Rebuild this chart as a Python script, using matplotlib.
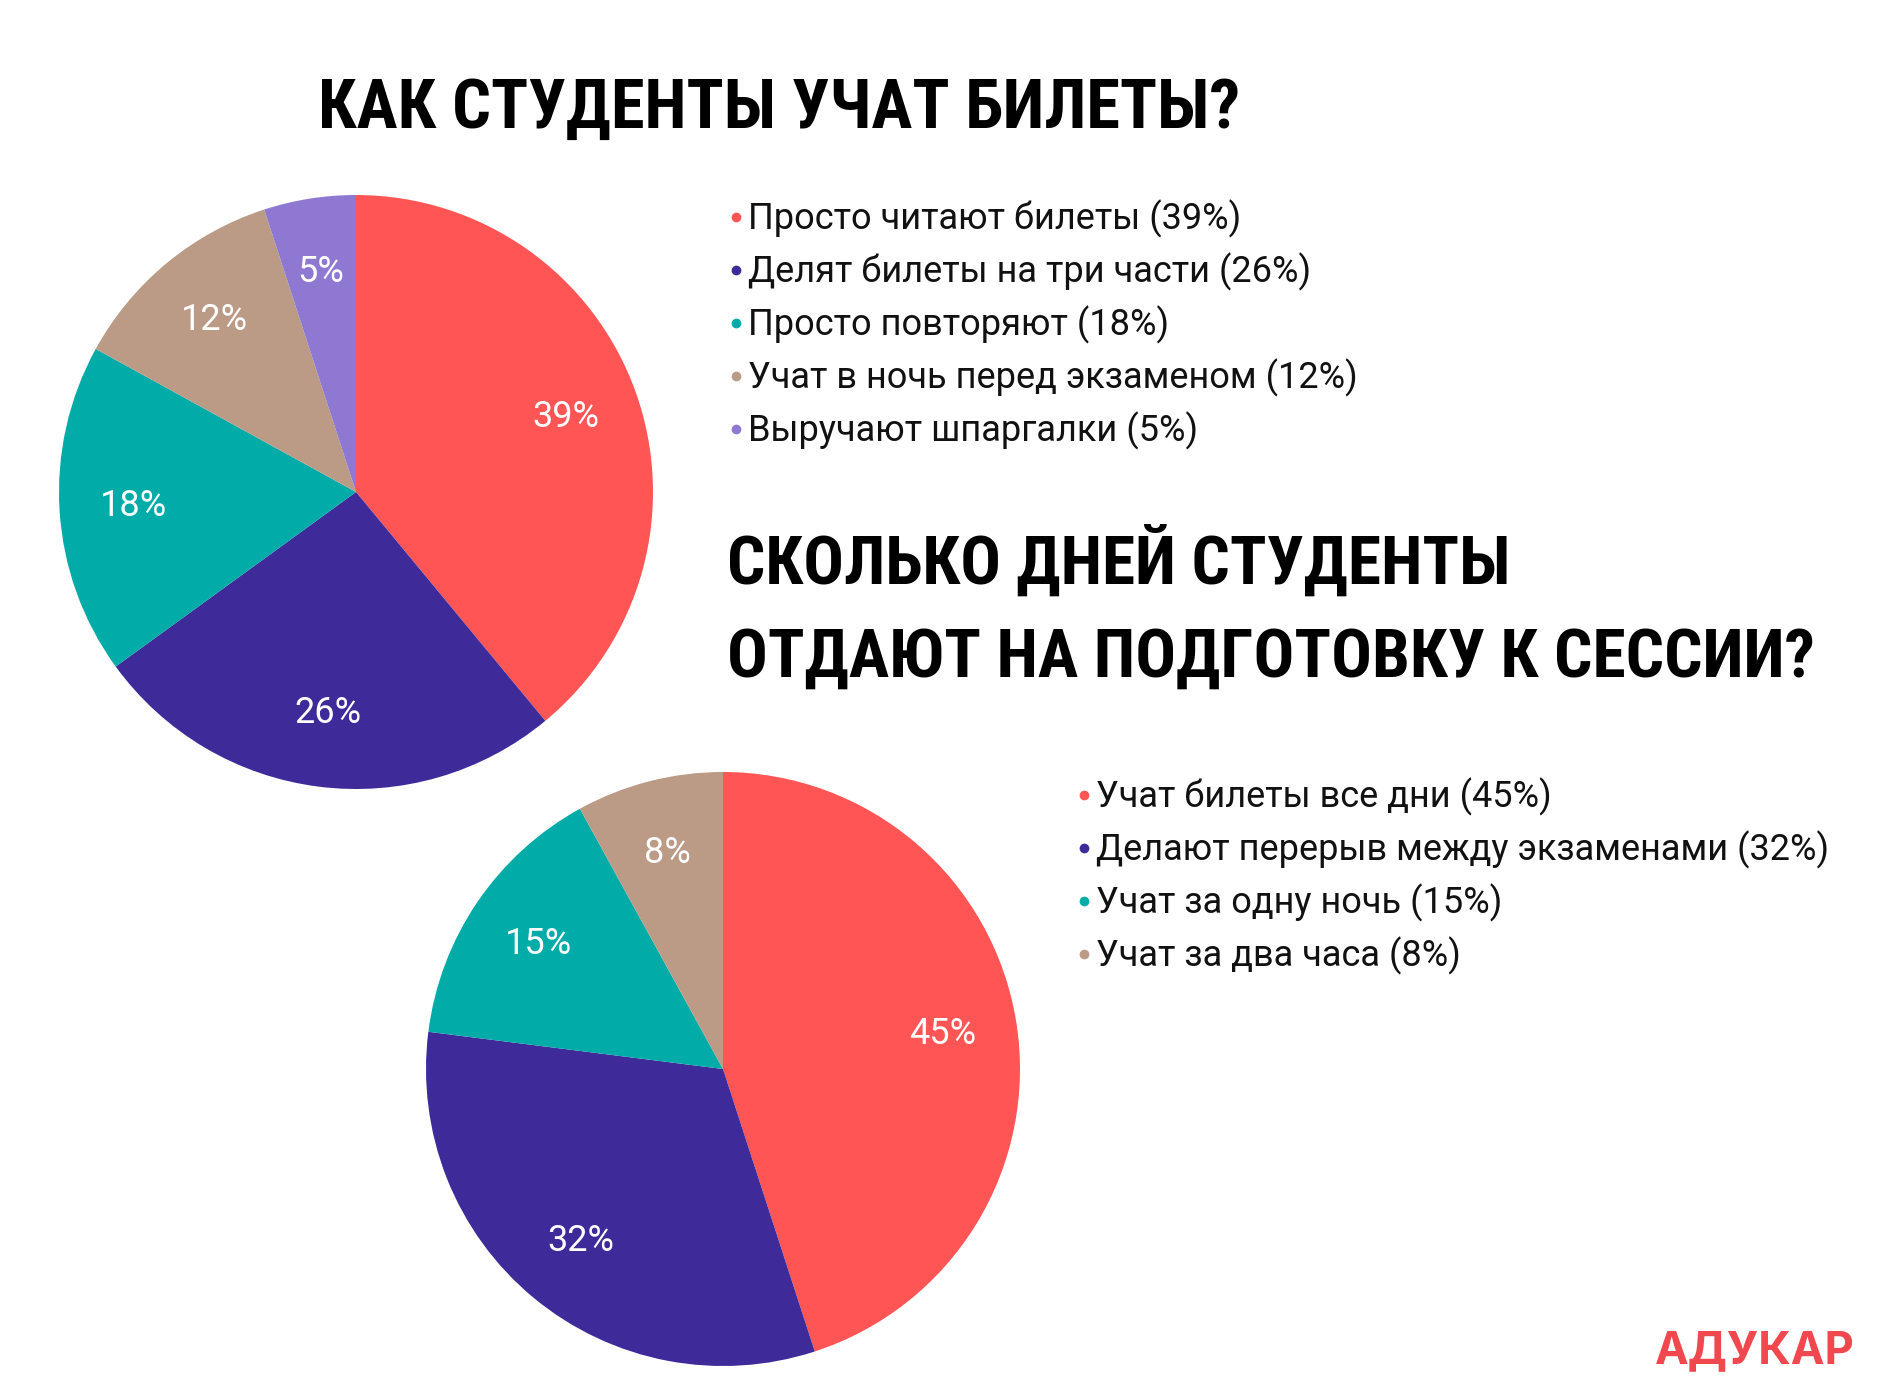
import matplotlib
matplotlib.use('Agg')
import matplotlib.pyplot as plt
from matplotlib import font_manager
from matplotlib.lines import Line2D

W, H = 1880, 1400

# question 1
q1_title = 'КАК СТУДЕНТЫ УЧАТ БИЛЕТЫ?'
q1_labels = ['Просто читают билеты', 'Делят билеты на три части', 'Просто повторяют',
             'Учат в ночь перед экзаменом', 'Выручают шпаргалки']
q1_values = [39, 26, 18, 12, 5]
q1_colors = ['#FF5555', '#3F2A99', '#00ABA8', '#BB9A86', '#8E78D2']

# question 2
q2_title = ['СКОЛЬКО ДНЕЙ СТУДЕНТЫ', 'ОТДАЮТ НА ПОДГОТОВКУ К СЕССИИ?']
q2_labels = ['Учат билеты все дни', 'Делают перерыв между экзаменами',
             'Учат за одну ночь', 'Учат за два часа']
q2_values = [45, 32, 15, 8]
q2_colors = ['#FF5555', '#3F2A99', '#00ABA8', '#BB9A86']

logo = 'АДУКАР'


def find_condensed():
    """Look for a condensed/narrow bold face, else None."""
    prefs = ['robotocondensed-bold', 'dejavusanscondensed-bold',
             'liberationsansnarrow-bold', 'opensans_condensed-bold',
             'opensanscondensed-bold']
    files = [f.fname for f in font_manager.fontManager.ttflist]
    for p in prefs:
        for fn in files:
            if p in fn.lower().replace(' ', ''):
                return font_manager.FontProperties(fname=fn)
    return None


cond = find_condensed()


def px(x, y):
    return x / W, 1 - y / H


fig = plt.figure(figsize=(W / 100, H / 100), dpi=100)
fig.patch.set_facecolor('white')
renderer = fig.canvas.get_renderer()


def fit_text(x, y, s, width, size, ha='left', **kw):
    """Place text with baseline at (x, y) px, shrink it if wider than width px."""
    if cond is not None and kw.pop('condensed', False):
        kw['fontproperties'] = cond.copy()
        kw['fontproperties'].set_size(size)
        t = fig.text(*px(x, y), s, ha=ha, va='baseline', **kw)
    else:
        kw.pop('condensed', None)
        t = fig.text(*px(x, y), s, ha=ha, va='baseline', fontsize=size, **kw)
    w = t.get_window_extent(renderer).width
    if w > width:
        t.set_fontsize(size * width / w)
    return t


def pie(cx, cy, r, values, colors):
    ax = fig.add_axes([(cx - r) / W, 1 - (cy + r) / H, 2 * r / W, 2 * r / H])
    ax.pie(values, colors=colors, startangle=90, counterclock=False,
           autopct='%d%%', pctdistance=0.75,
           wedgeprops=dict(linewidth=0),
           textprops=dict(color='white', fontsize=26, family='Roboto'))
    ax.set_xlim(-1, 1)
    ax.set_ylim(-1, 1)
    ax.set_aspect('equal')
    ax.axis('off')
    return ax


def legend(x, y0, step, labels, values, colors):
    for i, (lab, v, c) in enumerate(zip(labels, values, colors)):
        y = y0 + i * step
        fig.add_artist(Line2D([(x - 12) / W], [1 - (y - 12) / H], marker='o',
                              markersize=7, color=c, markeredgewidth=0,
                              linestyle='none', transform=fig.transFigure))
        fig.text(*px(x, y), f'{lab} ({v}%)', ha='left', va='baseline',
                 fontsize=26, family='Roboto', color='#111111')


# titles
fit_text(318, 128, q1_title, 922, 64, fontweight='bold', condensed=True, color='black')
fit_text(727, 584, q2_title[0], 783, 62, fontweight='bold', condensed=True, color='black')
fit_text(727, 677, q2_title[1], 1087, 62, fontweight='bold', condensed=True, color='black')

# pies
pie(356, 492, 297, q1_values, q1_colors)
pie(723, 1069, 297, q2_values, q2_colors)

# legends
legend(748, 229, 53, q1_labels, q1_values, q1_colors)
legend(1096, 807, 53, q2_labels, q2_values, q2_colors)

# logo
fit_text(1855, 1363, logo, 200, 36, ha='right', fontweight='bold', family='Inter',
         color='#F0484E')

fig.savefig('out.png', dpi=100, facecolor='white')
